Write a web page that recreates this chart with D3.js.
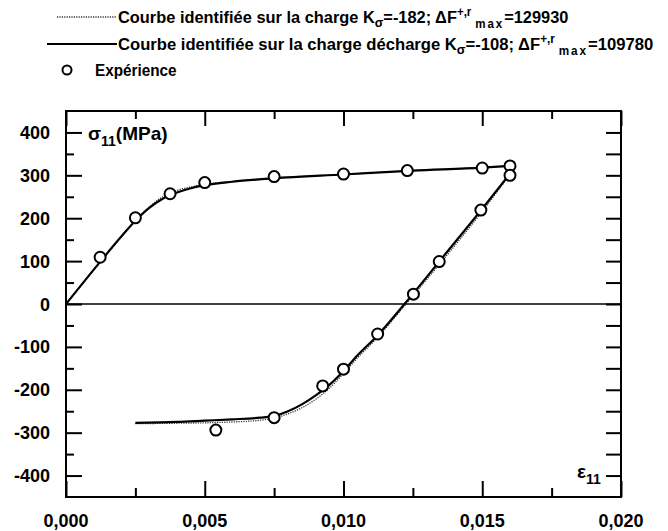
<!DOCTYPE html>
<html>
<head>
<meta charset="utf-8">
<script src="https://cdn.jsdelivr.net/npm/d3@7"></script>
<style>
  body { margin: 0; background: #fff; }
  svg text { font-family: "Liberation Sans", Arial, sans-serif; fill: #000; }
</style>
</head>
<body>
<div id="chart"></div>
<script>
// experimental points (strain, stress MPa)
const expLoadX = [0.00123, 0.0025, 0.00375, 0.005, 0.0075, 0.0100, 0.0123, 0.0150, 0.0160];
const expLoadY = [109, 201, 257, 283, 297, 303, 311, 317, 322];
const expUnloadX = [0.0054, 0.0075, 0.00925, 0.0100, 0.01123, 0.01252, 0.01345, 0.01495, 0.0160];
const expUnloadY = [-294, -265, -191, -152, -70, 23, 99, 219, 300];

// curve identified on charge-décharge (solid)
const solidLoadX = [0, 0.0012, 0.002, 0.0025, 0.003, 0.0035, 0.004, 0.0045, 0.005, 0.006, 0.0075, 0.010, 0.0125, 0.015, 0.016];
const solidLoadY = [0, 96, 158, 194, 224, 246, 260, 270, 277, 285, 293, 302, 311, 318, 322];
const solidUnloadX = [0.0025, 0.004, 0.005, 0.006, 0.007, 0.0075, 0.008, 0.0085, 0.009, 0.0095, 0.010, 0.0105, 0.0112, 0.0122, 0.0135, 0.015, 0.016];
const solidUnloadY = [-277, -275, -272, -269, -265, -261, -250, -234, -213, -188, -156, -120, -75, 0, 103, 222, 304];

// curve identified on charge only (dotted)
const dotLoadX = [0, 0.0012, 0.002, 0.0025, 0.003, 0.0035, 0.004, 0.0045, 0.005, 0.006, 0.0075, 0.010, 0.0125, 0.015, 0.016];
const dotLoadY = [0, 95, 157, 194, 226, 251, 265, 273, 279, 286, 294, 302, 311, 318, 322];
const dotUnloadX = [0.0025, 0.004, 0.005, 0.006, 0.007, 0.0075, 0.008, 0.0085, 0.009, 0.0095, 0.010, 0.0105, 0.0112, 0.0122, 0.0135, 0.015, 0.016];
const dotUnloadY = [-279, -278, -277, -275, -271, -266, -256, -242, -222, -196, -162, -126, -80, -4, 96, 216, 302];

// ticks
const xMajor = [0, 0.005, 0.010, 0.015, 0.020];
const xMinor = [0.0025, 0.0075, 0.0125, 0.0175];
const yMajor = [-400, -300, -200, -100, 0, 100, 200, 300, 400];
const yMinor = [-350, -250, -150, -50, 50, 150, 250, 350];

const width = 668, height = 531;
const margin = { top: 111, right: 47, bottom: 34, left: 66 };

const svg = d3.select("#chart").append("svg")
    .attr("width", width)
    .attr("height", height);

const x = d3.scaleLinear().domain([0, 0.02]).range([margin.left, width - margin.right]);
const y = d3.scaleLinear().domain([-450, 450]).range([height - margin.bottom, margin.top]);

const zip = (xs, ys) => xs.map((v, i) => [v, ys[i]]);

// zero line
svg.append("line")
    .attr("x1", x(0)).attr("x2", x(0.02))
    .attr("y1", y(0)).attr("y2", y(0))
    .attr("stroke", "#000").attr("stroke-width", 1.6);

// axes - ticks pointing inward
function tickAxis(axis, transform, size) {
    const g = svg.append("g")
        .attr("transform", transform)
        .call(axis.tickSize(size).tickFormat(""));
    g.select(".domain").remove();
    g.selectAll("line").attr("stroke", "#000").attr("stroke-width", 2);
    return g;
}
const bottomT = `translate(0,${y(-450)})`, topT = `translate(0,${y(450)})`;
const leftT = `translate(${x(0)},0)`, rightT = `translate(${x(0.02)},0)`;
tickAxis(d3.axisBottom(x).tickValues(xMajor), bottomT, -16);
tickAxis(d3.axisBottom(x).tickValues(xMinor), bottomT, -9);
tickAxis(d3.axisTop(x).tickValues(xMajor), topT, -15);
tickAxis(d3.axisTop(x).tickValues(xMinor), topT, -8);
tickAxis(d3.axisLeft(y).tickValues(yMajor), leftT, -16);
tickAxis(d3.axisLeft(y).tickValues(yMinor), leftT, -8);
tickAxis(d3.axisRight(y).tickValues(yMajor.concat(yMinor)), rightT, -15);

// tick labels
svg.append("g").selectAll("text")
    .data(yMajor)
    .join("text")
    .attr("x", 50)
    .attr("y", d => y(d) + 6.5)
    .attr("text-anchor", "end")
    .style("font-size", "18px")
    .style("font-weight", "bold")
    .text(d => String(d));

svg.append("g").selectAll("text")
    .data(xMajor)
    .join("text")
    .attr("x", d => x(d))
    .attr("y", 527)
    .attr("text-anchor", "middle")
    .style("font-size", "18px")
    .style("font-weight", "bold")
    .text(d => d3.format(".3f")(d).replace(".", ","));

// frame
svg.append("rect")
    .attr("x", x(0)).attr("y", y(450))
    .attr("width", x(0.02) - x(0)).attr("height", y(-450) - y(450))
    .attr("fill", "none").attr("stroke", "#000").attr("stroke-width", 2);

// curves
const line = d3.line().x(d => x(d[0])).y(d => y(d[1])).curve(d3.curveMonotoneX);
[zip(dotLoadX, dotLoadY), zip(dotUnloadX, dotUnloadY)].forEach(pts => {
    svg.append("path").attr("d", line(pts))
        .attr("fill", "none").attr("stroke", "#333")
        .attr("stroke-width", 1.3).attr("stroke-dasharray", "1.2,1.2");
});
[zip(solidLoadX, solidLoadY), zip(solidUnloadX, solidUnloadY)].forEach(pts => {
    svg.append("path").attr("d", line(pts))
        .attr("fill", "none").attr("stroke", "#000")
        .attr("stroke-width", 2.2);
});

// experimental points
svg.append("g").selectAll("circle")
    .data(zip(expLoadX, expLoadY).concat(zip(expUnloadX, expUnloadY)))
    .join("circle")
    .attr("cx", d => x(d[0]))
    .attr("cy", d => y(d[1]))
    .attr("r", 5.5)
    .attr("fill", "#fff")
    .attr("stroke", "#000")
    .attr("stroke-width", 2);

// axis titles
const sig = svg.append("text").attr("x", 88).attr("y", 140)
    .style("font-size", "19px").style("font-weight", "bold");
sig.append("tspan").text("σ");
sig.append("tspan").attr("dy", 6).style("font-size", "14px").text("11");
sig.append("tspan").attr("dy", -6).text("(MPa)");

const eps = svg.append("text").attr("x", 577).attr("y", 478)
    .style("font-size", "19px").style("font-weight", "bold");
eps.append("tspan").text("ε");
eps.append("tspan").attr("dy", 6).style("font-size", "14px").text("11");

// legend
const legend = svg.append("g");
legend.append("line").attr("x1", 57).attr("x2", 117).attr("y1", 17).attr("y2", 17)
    .attr("stroke", "#333").attr("stroke-width", 1.3).attr("stroke-dasharray", "1.2,1.2");
legend.append("line").attr("x1", 47).attr("x2", 117).attr("y1", 44).attr("y2", 44)
    .attr("stroke", "#000").attr("stroke-width", 2.2);
legend.append("circle").attr("cx", 67).attr("cy", 70).attr("r", 4.5)
    .attr("fill", "#fff").attr("stroke", "#000").attr("stroke-width", 2);

function legendText(yBase, label, k, f, targetW) {
    const t = legend.append("text").attr("x", 0).attr("y", 0)
        .style("font-size", "17px").style("font-weight", "bold");
    t.append("tspan").text(label + "K");
    t.append("tspan").attr("dy", 4).style("font-size", "13px").text("σ");
    t.append("tspan").attr("dy", -4).text("=" + k + "; ΔF");
    t.append("tspan").attr("dy", -7).style("font-size", "12px").text("+,r");
    t.append("tspan").attr("dy", 12).style("font-size", "12px").attr("dx", 4)
        .style("letter-spacing", "2px").text("max");
    t.append("tspan").attr("dy", -5).text("=" + f);
    const w = t.node().getComputedTextLength();
    t.attr("transform", `translate(118,${yBase}) scale(${targetW / w},1)`);
}
legendText(23, "Courbe identifiée sur la charge  ", -182, 129930, 447);
legendText(50, "Courbe identifiée sur la charge décharge ", -108, 109780, 532);

legend.append("text").attr("x", 95).attr("y", 76)
    .style("font-size", "17px").style("font-weight", "bold")
    .attr("transform", "translate(95,0) scale(0.9,1) translate(-95,0)")
    .text("Expérience");
</script>
</body>
</html>
